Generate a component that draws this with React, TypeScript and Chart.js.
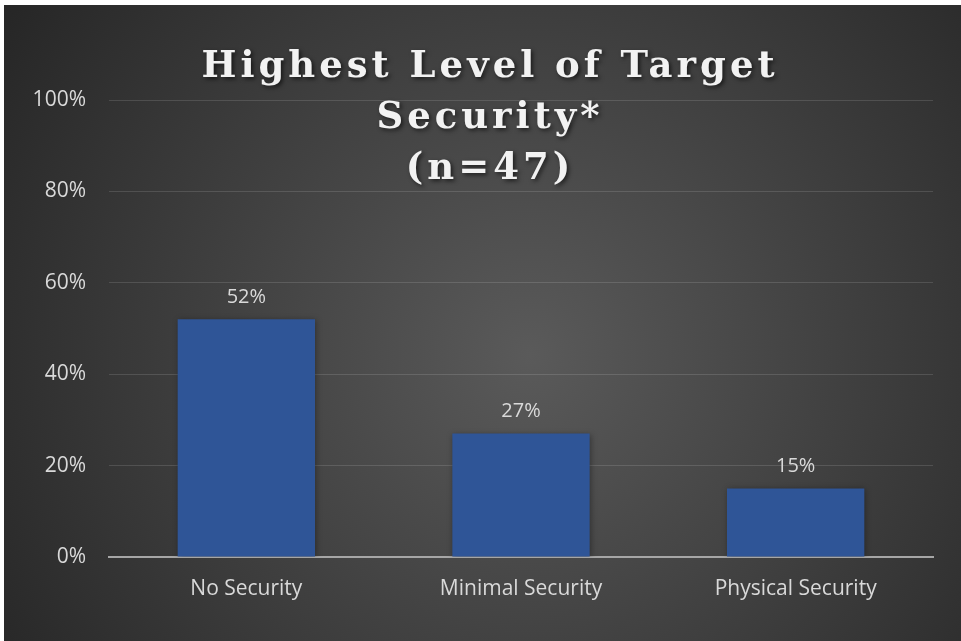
import React, { useEffect, useRef } from "react";
import { Chart, registerables } from "chart.js";

Chart.register(...registerables);

const categories = ["No Security", "Minimal Security", "Physical Security"];
const values = [52, 27, 15];
const valueLabels = ["52%", "27%", "15%"];
const titleLines = ["Highest Level of Target", "Security*", "(n=47)"];
const yTicks = [0, 20, 40, 60, 80, 100];

const bgPlugin = {
  id: "bgPlugin",
  beforeDraw(chart: any) {
    const { ctx, width, height } = chart;
    ctx.save();
    const cx = width * 0.55;
    const cy = height * 0.55;
    const g = ctx.createRadialGradient(cx, cy, 0, cx, cy, Math.hypot(width, height) * 0.55);
    g.addColorStop(0, "#5a5a5a");
    g.addColorStop(1, "#262626");
    ctx.fillStyle = g;
    ctx.fillRect(0, 0, width, height);
    ctx.restore();
  },
  beforeDatasetsDraw(chart: any) {
    const ctx = chart.ctx;
    ctx.save();
    ctx.shadowColor = "rgba(0,0,0,0.35)";
    ctx.shadowBlur = 6;
    ctx.shadowOffsetX = 1;
    ctx.shadowOffsetY = 1;
  },
  afterDatasetsDraw(chart: any) {
    const ctx = chart.ctx;
    ctx.restore();
    const meta = chart.getDatasetMeta(0);
    ctx.save();
    ctx.fillStyle = "#d9d9d9";
    ctx.font = "20px 'Open Sans'";
    ctx.textAlign = "center";
    ctx.textBaseline = "middle";
    meta.data.forEach((bar: any, i: number) => {
      ctx.fillText(valueLabels[i], bar.x, bar.y - 22);
    });
    ctx.restore();
  },
  afterDraw(chart: any) {
    const ctx = chart.ctx;
    ctx.save();
    ctx.font = "bold 37px 'DejaVu Serif'";
    (ctx as any).letterSpacing = "4px";
    ctx.fillStyle = "#f2f2f2";
    ctx.textAlign = "center";
    ctx.textBaseline = "alphabetic";
    ctx.shadowColor = "rgba(0,0,0,0.6)";
    ctx.shadowBlur = 4;
    ctx.shadowOffsetX = 2;
    ctx.shadowOffsetY = 2;
    const baselines = [72, 123, 174];
    titleLines.forEach((t, i) => {
      ctx.fillText(t, 486, baselines[i]);
    });
    ctx.restore();
  },
};

export default function App() {
  const ref = useRef<HTMLCanvasElement | null>(null);
  useEffect(() => {
    document.body.style.margin = "0";
    document.body.style.background = "#ffffff";
    const chart = new Chart(ref.current!, {
      type: "bar",
      data: {
        labels: categories,
        datasets: [
          {
            data: values,
            backgroundColor: "#2f5597",
            borderWidth: 0,
            categoryPercentage: 1,
            barPercentage: 0.5,
          },
        ],
      },
      options: {
        animation: false,
        responsive: false,
        devicePixelRatio: 1,
        layout: { padding: { top: 95, right: 28, left: 0, bottom: 0 } },
        plugins: {
          legend: { display: false },
          title: { display: false },
          tooltip: { enabled: false },
        },
        scales: {
          x: {
            grid: { display: false, drawTicks: false },
            border: { display: true, color: "#a6a6a6", width: 2 },
            ticks: {
              color: "#d9d9d9",
              font: { family: "'Open Sans'", size: 21 },
              padding: 19,
              maxRotation: 0,
            },
            afterFit(scale: any) {
              scale.height = 84;
            },
          },
          y: {
            min: 0,
            max: 100,
            afterBuildTicks(scale: any) {
              scale.ticks = yTicks.map((v) => ({ value: v }));
            },
            grid: { color: "rgba(255,255,255,0.13)", lineWidth: 1, drawTicks: false },
            border: { display: false },
            ticks: {
              color: "#d9d9d9",
              font: { family: "'Open Sans'", size: 21 },
              padding: 23,
              callback: (v: any) => v + "%",
            },
            afterFit(scale: any) {
              scale.width = 105;
            },
          },
        },
      },
      plugins: [bgPlugin],
    });
    return () => chart.destroy();
  }, []);
  return (
    <div style={{ position: "absolute", left: 4, top: 5, width: 957, height: 636 }}>
      <canvas ref={ref} width={957} height={636} style={{ display: "block" }} />
    </div>
  );
}
